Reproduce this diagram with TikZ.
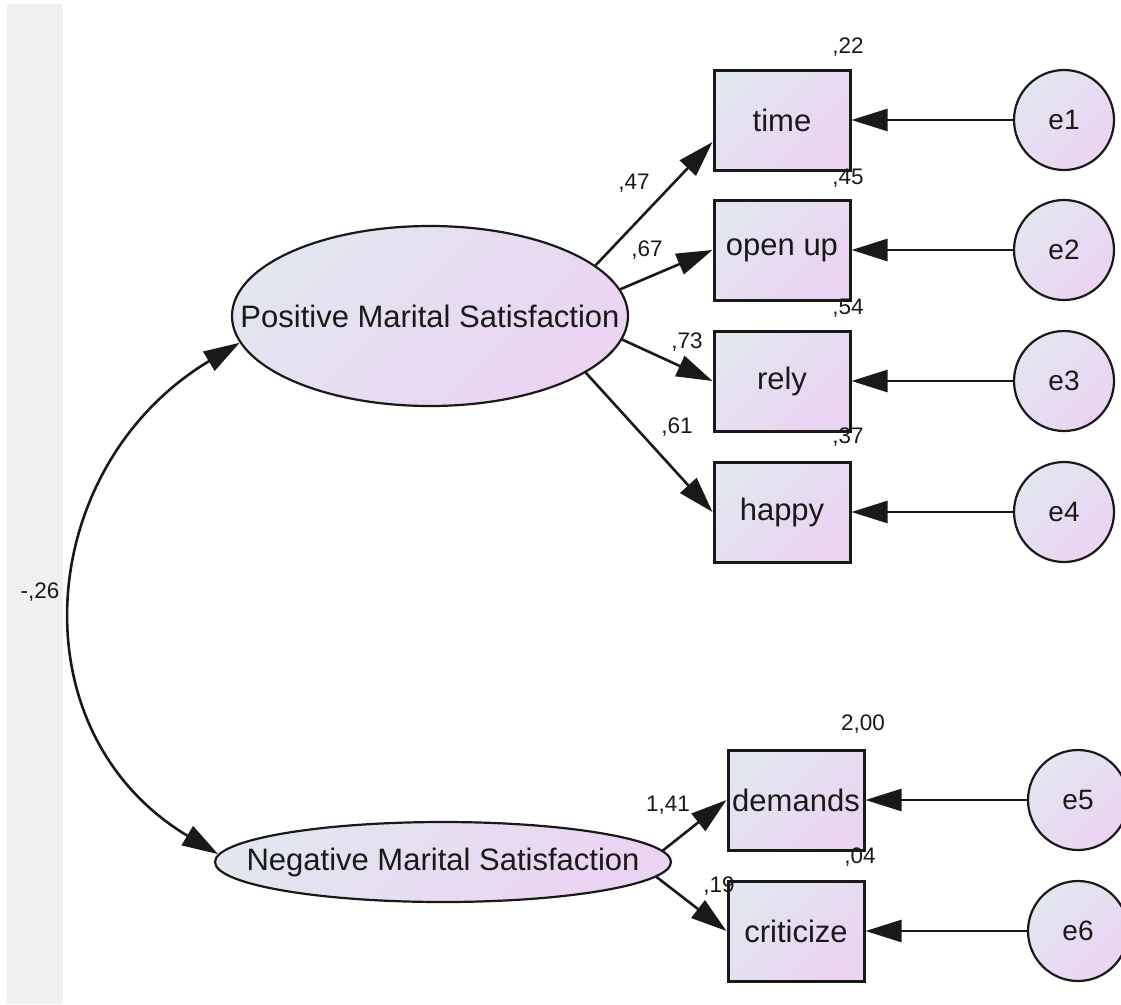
\documentclass[tikz,border=0pt]{standalone}
\usepackage{fontspec}
\setmainfont{Liberation Sans}
\usetikzlibrary{shapes.geometric,arrows.meta}
\definecolor{cA}{RGB}{226,230,239}
\definecolor{cB}{RGB}{235,211,242}
\definecolor{band}{RGB}{240,240,240}
\definecolor{ink}{RGB}{25,25,25}
\tikzset{
  fillgrad/.style={top color=cA, bottom color=cB, shading angle=45},
  obs/.style={rectangle, draw=ink, line width=3pt, fillgrad, minimum width=136pt, minimum height=100pt, inner sep=0pt, text=ink, font=\fontsize{31}{31}\selectfont},
  lat/.style={ellipse, draw=ink, line width=2.2pt, fillgrad, inner sep=0pt, text=ink, font=\fontsize{31}{31}\selectfont},
  err/.style={circle, draw=ink, line width=2.2pt, fillgrad, minimum size=100pt, inner sep=0pt, text=ink, font=\fontsize{28}{28}\selectfont},
  pth/.style={draw=ink, line width=2.6pt, -{Triangle[length=36pt,width=22pt]}},
  cov/.style={draw=ink, line width=2.6pt, {Triangle[length=36pt,width=22pt]}-{Triangle[length=36pt,width=22pt]}},
  num/.style={inner sep=0pt, text=ink, font=\fontsize{22.5}{22.5}\selectfont}
}
\begin{document}
\begin{tikzpicture}[x=1pt,y=-1pt]
\useasboundingbox (0,0) rectangle (1121,1004);
\fill[band] (7,4) rectangle (63,1004);

% latent variables
\node[lat, minimum width=396pt, minimum height=180pt] (pms) at (430,316) {\makebox[0pt]{Positive Marital Satisfaction}};
\node[lat, minimum width=456pt, minimum height=80pt] (nms) at (443,862) {\makebox[0pt]{Negative Marital Satisfaction}};

% observed variables
\node[obs] (time) at (782,120) {time};
\node[obs] (open) at (782,250) {open up};
\node[obs] (rely) at (782,381) {rely};
\node[obs] (happy) at (782,512) {happy};
\node[obs] (dem) at (796,800) {demands};
\node[obs] (crit) at (796,931) {criticize};

% errors
\node[err] (e1) at (1064,120) {e1};
\node[err] (e2) at (1064,250) {e2};
\node[err] (e3) at (1064,381) {e3};
\node[err] (e4) at (1064,512) {e4};
\node[err] (e5) at (1078,800) {e5};
\node[err] (e6) at (1078,931) {e6};

% paths
\draw[pth] (pms.17) -- ([yshift=-22pt]time.west);
\draw[pth] (pms.8) -- (open.west);
\draw[pth] (pms.-7.7) -- (rely.west);
\draw[pth] (pms.-20) -- (happy.west);
\draw[pth] (nms.3) -- (dem.west);
\draw[pth] (nms.-4) -- (crit.west);

\draw[pth] (e1.west) -- (time.east);
\draw[pth] (e2.west) -- (open.east);
\draw[pth] (e3.west) -- (rely.east);
\draw[pth] (e4.west) -- (happy.east);
\draw[pth] (e5.west) -- (dem.east);
\draw[pth] (e6.west) -- (crit.east);

% covariance
\draw[cov] (pms.188) .. controls +(-205,123) and +(-205,-123) .. (nms.178);

% labels
\node[num] (l22) at (848,47) {,22};
\node[num] (l45) at (848,178) {,45};
\node[num] (l54) at (848,308) {,54};
\node[num] (l37) at (848,437) {,37};
\node[num] (l200) at (863,724) {2,00};
\node[num] (l04) at (860,857) {,04};
\node[num] (l47) at (634,183) {,47};
\node[num] (l67) at (647,250) {,67};
\node[num] (l73) at (687,342) {,73};
\node[num] (l61) at (677,427) {,61};
\node[num] (l141) at (668,805) {1,41};
\node[num] (l19) at (719,886) {,19};
\node[num] (l26) at (40,592) {-,26};
\end{tikzpicture}
\end{document}
